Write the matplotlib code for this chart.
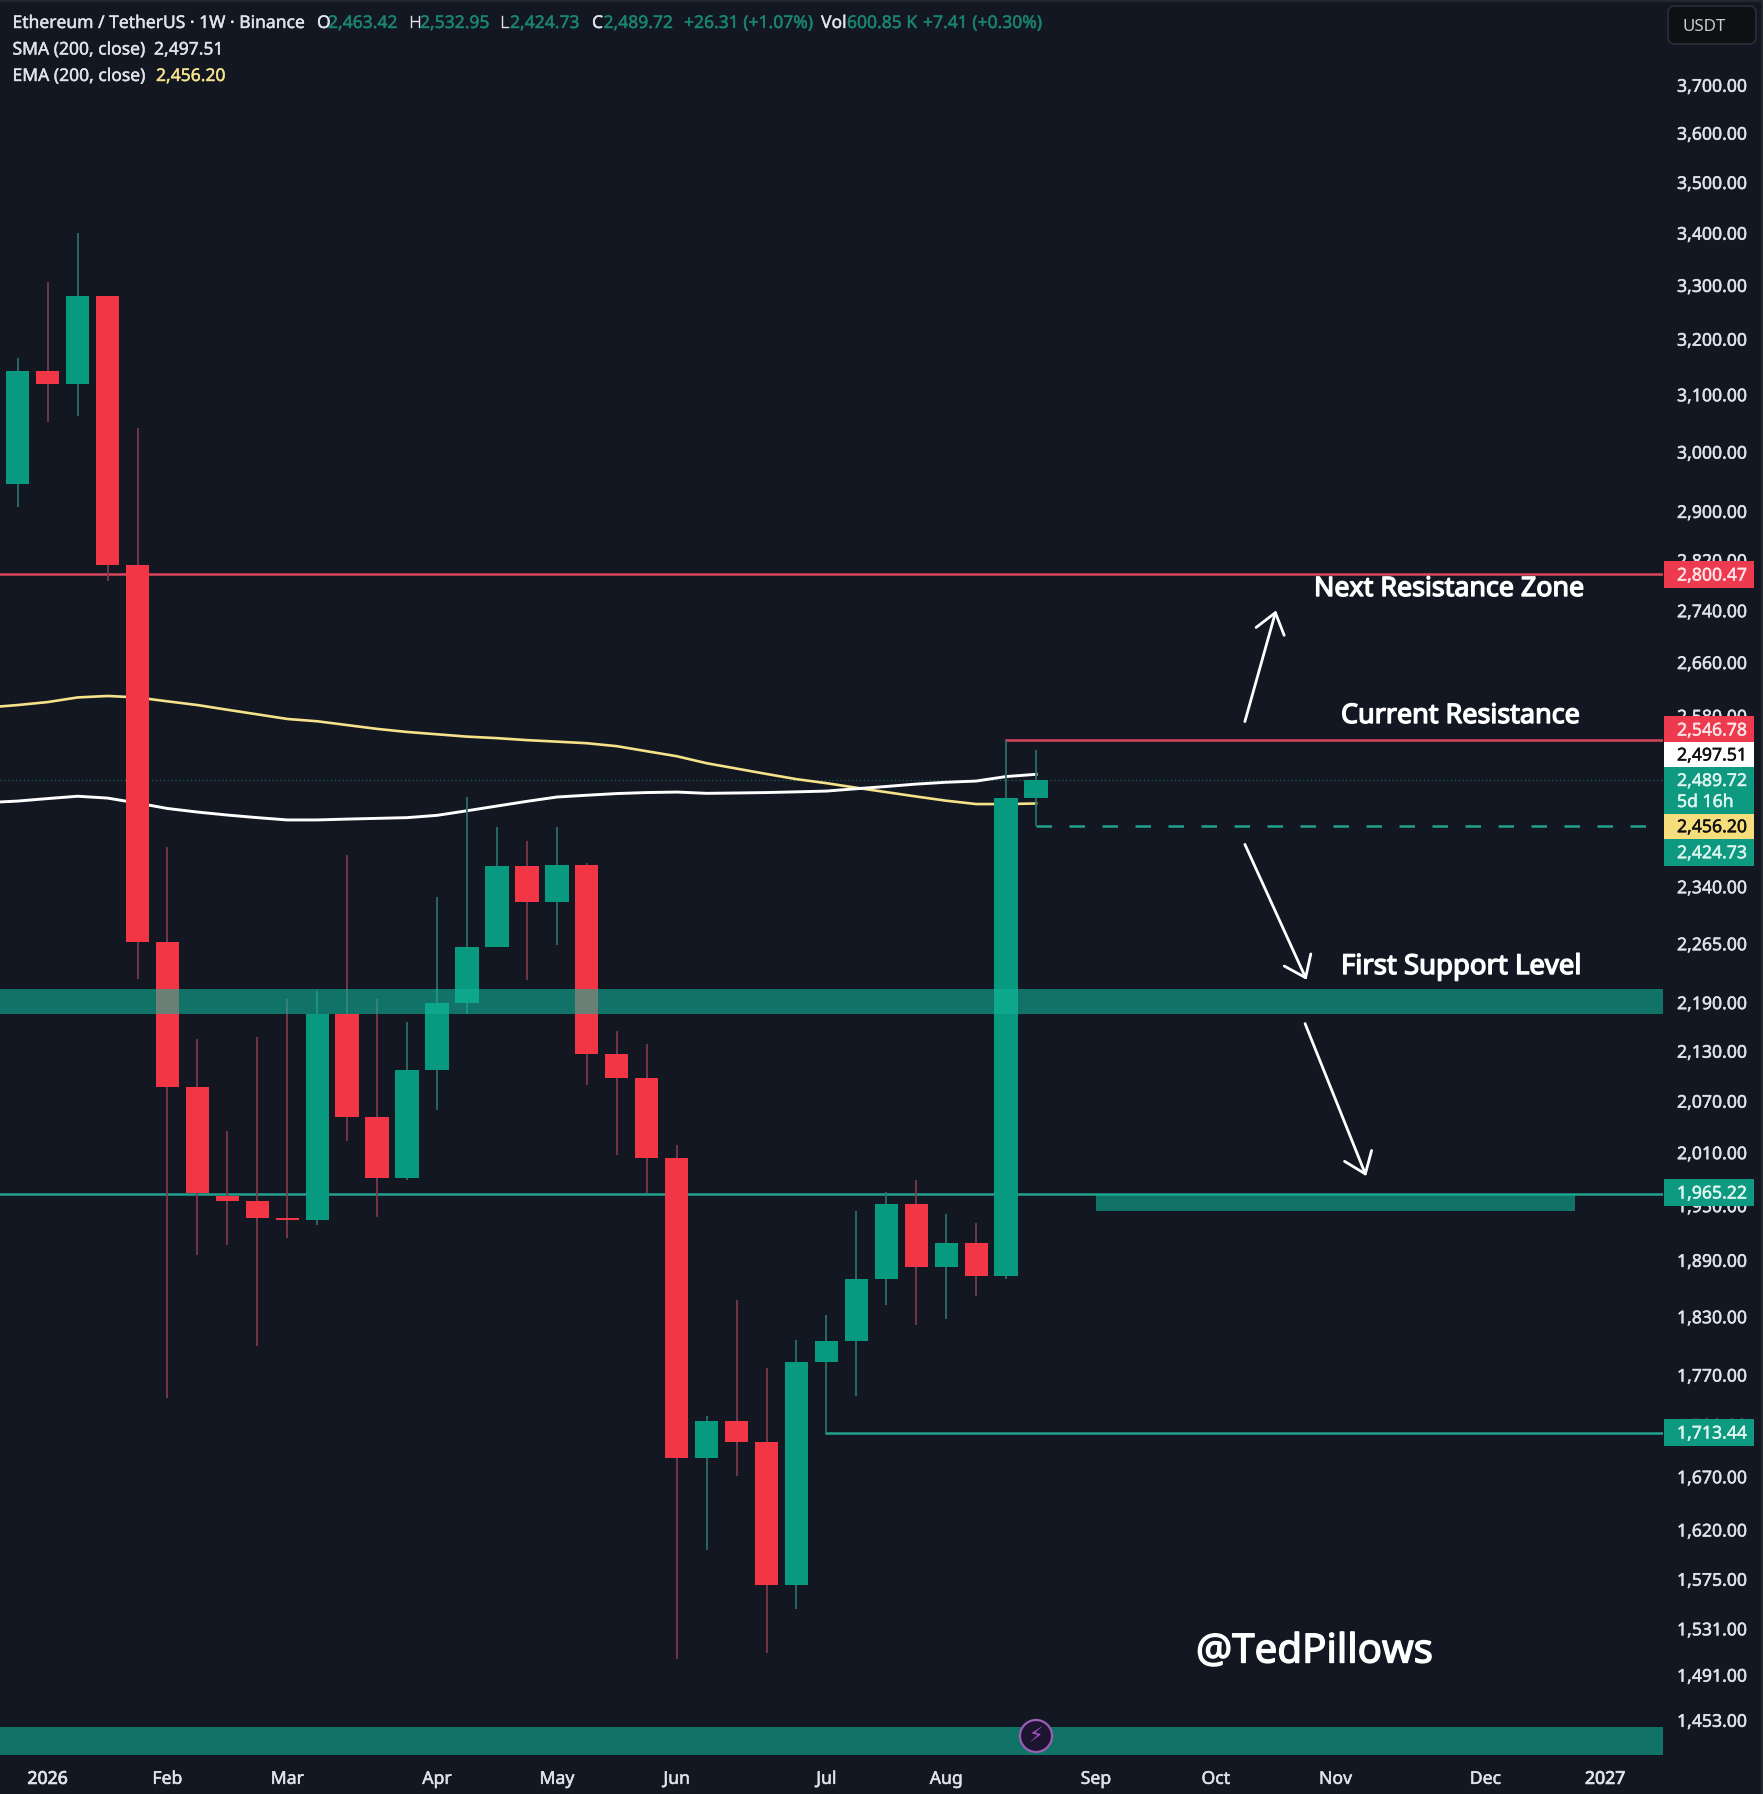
import matplotlib
matplotlib.use('Agg')
import matplotlib.pyplot as plt
import matplotlib.patheffects as pe
from matplotlib.patches import Rectangle, FancyBboxPatch, Circle
from matplotlib.transforms import Affine2D

W, H = 1763, 1794
plt.rcParams['font.family'] = ['Noto Sans', 'DejaVu Sans']

# weekly candles, first candle is index 0
opens = [2949, 3146, 3122, 3283, 2815, 2269, 2089, 1963, 1957, 1938, 1936, 2178, 2053, 1983, 2109, 2191, 2263, 2370,
         2322, 2371, 2129, 2099, 2006, 1690, 1726, 1705, 1571, 1785, 1806, 1872, 1954, 1884, 1911, 1875, 2463.42]
highs = [3168, 3309, 3403, 3283, 3044, 2396, 2147, 2037, 2149, 2197, 2206, 2385, 2197, 2168, 2329, 2465, 2423, 2404,
         2423, 2374, 2157, 2141, 2020, 1731, 1849, 1779, 1807, 1833, 1946, 1967, 1981, 1942, 1932, 2546.78, 2532.95]
lows = [2910, 3054, 3066, 2790, 2222, 1748, 1897, 1908, 1801, 1916, 1930, 2025, 1939, 1980, 2061, 2178, 2263, 2220,
        2265, 2091, 2009, 1966, 1506, 1603, 1672, 1511, 1550, 1713.44, 1750, 1844, 1823, 1829, 1854, 1872, 2424.73]
closes = [3146, 3122, 3283, 2815, 2269, 2089, 1966, 1957, 1938, 1936, 2178, 2053, 1983, 2109, 2191, 2263, 2370, 2322,
          2371, 2129, 2099, 2006, 1690, 1726, 1705, 1571, 1785, 1806, 1872, 1954, 1884, 1911, 1875, 2463.42, 2489.72]

# moving averages start one week before the first candle
sma = [2457.5, 2459.6, 2463.1, 2466.4, 2463.8, 2456.8, 2449.2, 2444.2, 2440, 2436.4, 2433.2, 2433.2, 2434.4, 2435.4,
       2436.4, 2439.6, 2446, 2452.6, 2459.2, 2465.3, 2467.8, 2470.2, 2471.6, 2472.3, 2470.5, 2471, 2471.6, 2472.6,
       2473.7, 2477, 2480.2, 2483.6, 2486.2, 2487.9, 2494.3, 2497.51]
ema = [2594.8, 2598.4, 2602.8, 2609.7, 2611.9, 2609.7, 2603.9, 2598.4, 2591.4, 2584.6, 2577.8, 2574.4, 2568.8, 2563.2,
       2558.7, 2555.3, 2551.9, 2549.7, 2546.8, 2544.6, 2542.3, 2538, 2530.7, 2523.5, 2513.4, 2505.7, 2498, 2490.6,
       2484.9, 2478.4, 2472.2, 2466, 2460.1, 2455.4, 2455.4, 2456.2]

price_ticks = [3700, 3600, 3500, 3400, 3300, 3200, 3100, 3000, 2900, 2820, 2740, 2660, 2580, 2340, 2265, 2190, 2130,
               2070, 2010, 1950, 1890, 1830, 1770, 1720, 1670, 1620, 1575, 1531, 1491, 1453]
time_ticks = [1, 5, 9, 14, 18, 22, 27, 31, 36, 40, 44, 49, 53]
time_labels = ['2026', 'Feb', 'Mar', 'Apr', 'May', 'Jun', 'Jul', 'Aug', 'Sep', 'Oct', 'Nov', 'Dec', '2027']

resistance_top = 2800.47
resistance_now = 2546.78
support_line = 1965.22
low_line = 1713.44
last_low = 2424.73
last_close = 2489.72
zone_first = (2178, 2209)
zone_second = (1946, 1965.22)
zone_bottom = (1425, 1448.7)

# arrows: start week, start price, end week, end price
arrows = [(40.97, 2573.9, 42.01, 2742.8),
          (40.97, 2399.5, 43.03, 2220.7),
          (42.98, 2165.8, 45.02, 1985)]

BG = '#121722'
GREEN = '#089981'
RED = '#f23645'
WICK_GREEN = '#2a6e68'
WICK_RED = '#7c3a4a'
TEXT = '#dfe2ea'
MUTED = '#1a8473'
YELLOW = '#f5e28a'
BOX_GREEN = '#0e9a80'
BOX_RED = '#ee3a4e'
ZONE = '#11b296'
TEXT_DY = 1.5

fig = plt.figure(figsize=(W / 100, H / 100), dpi=100, facecolor=BG)
ax = fig.add_axes([0, (H - 1755) / H, 1663 / W, 1755 / H], facecolor=BG)
ax.set_yscale('log')
ax.set_xlim(-0.591, 54.93)
ax.set_ylim(1425.7, 3888.2)
for s in ax.spines.values():
    s.set_visible(False)

# pixel coordinates for the interface parts, y going down
px = Affine2D().scale(1, -1).translate(0, H)
medium = [pe.withStroke(linewidth=0.35, foreground=TEXT)]
heavy = [pe.withStroke(linewidth=1.0, foreground='white')]

# moving averages
weeks_ma = list(range(-1, 35))
ax.plot(weeks_ma, ema, color=YELLOW, lw=1.9, zorder=2)
ax.plot(weeks_ma, sma, color='white', lw=2.1, zorder=2)

# levels
ax.axhline(resistance_top, color='#d9465a', lw=1.8, zorder=1.5)
ax.plot([33, 54.93], [resistance_now, resistance_now], color='#d9465a', lw=1.8, zorder=1.5)
ax.axhline(support_line, color='#23a08e', lw=1.8, zorder=1.5)
ax.plot([27, 54.93], [low_line, low_line], color='#23a08e', lw=1.8, zorder=1.5)
ax.plot([34, 54.35], [last_low, last_low], color='#23a08e', lw=1.8, ls=(0, (6.2, 7)), zorder=1.5)
ax.axhline(last_close, color='#2b6f68', lw=0.8, ls=(0, (1, 2.5)), zorder=1.2)

# candles
for i in range(len(opens)):
    up = closes[i] >= opens[i]
    ax.plot([i, i], [lows[i], highs[i]], color=WICK_GREEN if up else WICK_RED, lw=1.3, zorder=3,
            solid_capstyle='butt')
    bottom, top = sorted([opens[i], closes[i]])
    ax.bar(i, top - bottom, bottom=bottom, width=0.78, color=GREEN if up else RED, zorder=4)

# zones
ax.axhspan(zone_first[0], zone_first[1], color=ZONE, alpha=0.6, lw=0, zorder=5)
ax.axhspan(zone_bottom[0], zone_bottom[1], color=ZONE, alpha=0.6, lw=0, zorder=5)
ax.fill_between([36, 52], zone_second[0], zone_second[1], color=ZONE, alpha=0.6, lw=0, zorder=5)

# drawn arrows
for x0, y0, x1, y1 in arrows:
    ax.annotate('', xy=(x1, y1), xytext=(x0, y0), zorder=6,
                arrowprops=dict(arrowstyle='->,head_length=1.4,head_width=1.05', color='white', lw=2.0,
                                shrinkA=0, shrinkB=0))

# axes ticks
ax.set_yticks([])
ax.minorticks_off()
ax.tick_params(axis='y', which='both', length=0, labelright=False, labelleft=False)
ax.set_xticks(time_ticks, time_labels)
ax.tick_params(axis='x', length=0, pad=10.7, labelsize=12.7, labelcolor=TEXT)
for lab, name in zip(ax.get_xticklabels(), time_labels):
    width = 0.6 if name.isdigit() else 0.35
    lab.set_path_effects([pe.withStroke(linewidth=width, foreground=TEXT)])

for p in price_ticks:
    ax.annotate(f'{p:,.2f}', xy=(1, p), xycoords=('axes fraction', 'data'), xytext=(14, 0),
                textcoords='offset pixels', ha='left', va='center', fontsize=12.7, color=TEXT,
                annotation_clip=False, path_effects=medium)

# price tags on the axis: top, bottom, fill, text colour, [(text, y)]
tags = [(561, 588, BOX_RED, '#fbe3e6', [('2,800.47', 574)]),
        (716, 742, BOX_RED, '#fbe3e6', [('2,546.78', 729)]),
        (742, 767, 'white', '#111111', [('2,497.51', 754)]),
        (767, 814, BOX_GREEN, '#dff5ef', [('2,489.72', 779.5), ('5d 16h', 800.5)]),
        (814, 838.5, '#f7de7c', '#111111', [('2,456.20', 825.7)]),
        (838.5, 866, BOX_GREEN, '#dff5ef', [('2,424.73', 851.7)]),
        (1179, 1206, BOX_GREEN, '#dff5ef', [('1,965.22', 1192)]),
        (1419, 1446, BOX_GREEN, '#dff5ef', [('1,713.44', 1432)])]
for top, bottom, fill, txt, rows in tags:
    fig.add_artist(Rectangle((1664, top), 90, bottom - top, transform=px, facecolor=fill, edgecolor='none', zorder=6))
    for t, y in rows:
        fig.text(1677, y + TEXT_DY, t, transform=px, ha='left', va='center', fontsize=12.7, color=txt, zorder=7,
                 path_effects=[pe.withStroke(linewidth=0.35, foreground=txt)])

# USDT button
fig.add_artist(FancyBboxPatch((1672, 10), 80, 30, boxstyle='round,pad=4,rounding_size=7', transform=px,
                              facecolor='#0f1013', edgecolor='#2b2e36', lw=1.2, zorder=6))
fig.text(1683, 25 + TEXT_DY, 'USDT', transform=px, ha='left', va='center', fontsize=12.2, color='#c9cbd0', zorder=7)

# legend lines
legend_rows = [
    (12.5, 22.5, 'Ethereum / TetherUS · 1W · Binance', TEXT),
    (317, 22.5, 'O', TEXT), (328, 22.5, '2,463.42', MUTED),
    (409, 22.5, 'H', TEXT), (420, 22.5, '2,532.95', MUTED),
    (500, 22.5, 'L', TEXT), (510, 22.5, '2,424.73', MUTED),
    (592, 22.5, 'C', TEXT), (603.5, 22.5, '2,489.72', MUTED),
    (684, 22.5, '+26.31 (+1.07%)', MUTED),
    (821, 22.5, 'Vol', TEXT), (847, 22.5, '600.85 K', MUTED),
    (923, 22.5, '+7.41 (+0.30%)', MUTED),
    (12.5, 49, 'SMA (200, close)', TEXT), (154, 49, '2,497.51', TEXT),
    (12.5, 75.5, 'EMA (200, close)', TEXT), (156, 75.5, '2,456.20', YELLOW),
]
for x, y, t, c in legend_rows:
    fig.text(x, y + 0.5, t, transform=px, ha='left', va='center', fontsize=12.6, color=c, zorder=7,
             path_effects=[pe.withStroke(linewidth=0.3, foreground=c)])

# chart notes
for x, y, t, size in [(1314, 587.5, 'Next Resistance Zone', 19.3),
                      (1341, 714.5, 'Current Resistance', 19.4),
                      (1341, 965.5, 'First Support Level', 19.8),
                      (1196, 1651, '@TedPillows', 29)]:
    fig.text(x, y + TEXT_DY, t, transform=px, ha='left', va='center', fontsize=size, color='white', zorder=7,
             path_effects=heavy)

# lightning badge
fig.add_artist(Circle((1036, 1736), 16, transform=px, facecolor='#1d1430', edgecolor='#9a5fb4', lw=1.6, zorder=6))
fig.text(1036, 1736, '\u26a1', transform=px, ha='center', va='center', fontsize=15, color='#a552c8',
         family='DejaVu Sans', zorder=7)

# thin window edges
for x, y, w, h in [(0, 0, W, 2), (W - 2, 0, 2, H)]:
    fig.add_artist(Rectangle((x, y), w, h, transform=px, facecolor='#23272f', edgecolor='none', zorder=8))

fig.savefig('out.png', dpi=100, facecolor=BG)
